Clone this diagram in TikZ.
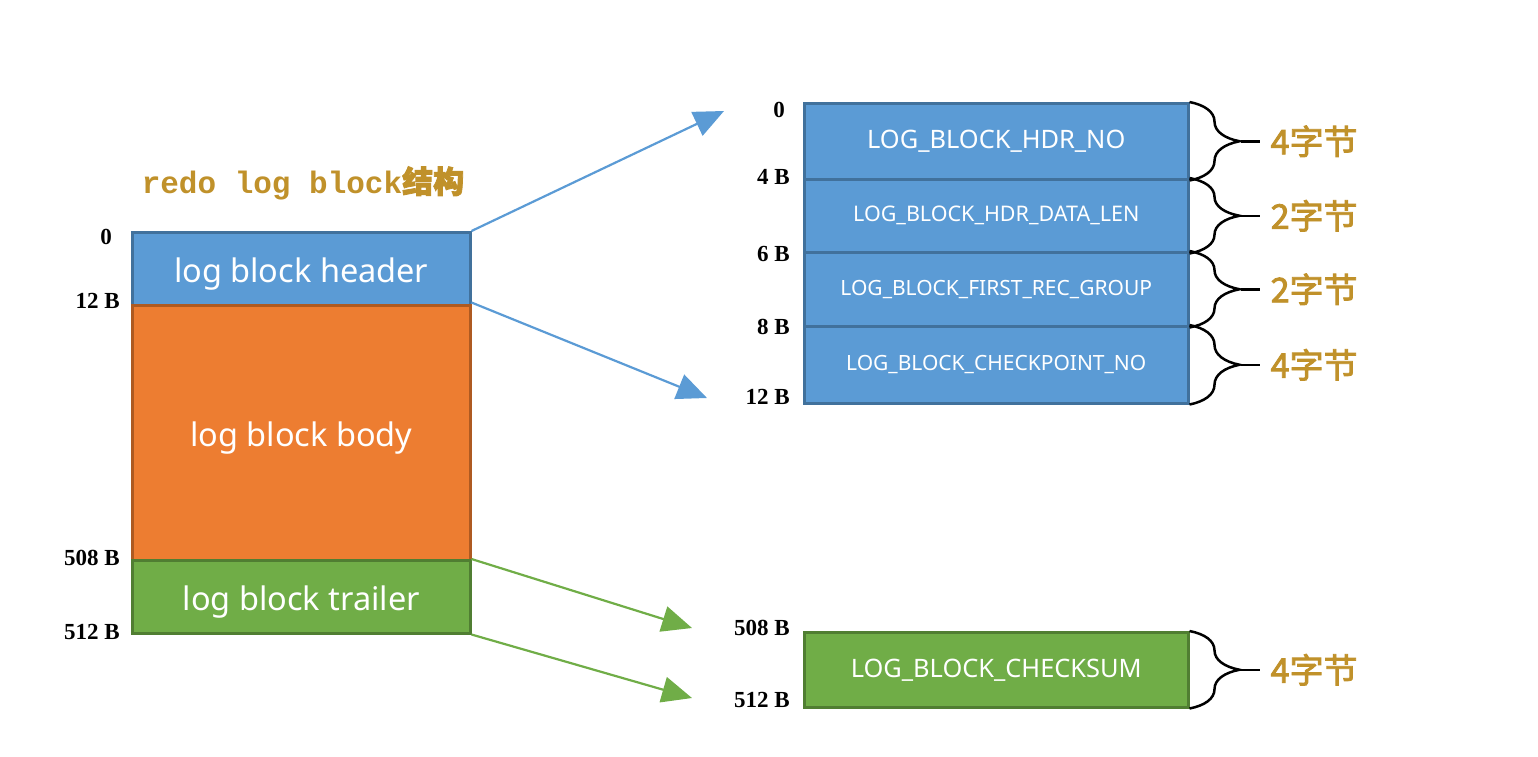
\documentclass[tikz,border=0pt]{standalone}
\usepackage{fontspec}
\setmainfont{Liberation Serif}
\newfontfamily\boxfont{Noto Sans}
\newfontfamily\cjkfont[FakeBold=2.5]{Noto Sans CJK SC}
\newfontfamily\titlemono{Liberation Mono}
\usetikzlibrary{decorations.pathreplacing,arrows.meta}
\definecolor{cblue}{HTML}{5B9BD5}
\definecolor{cblueD}{HTML}{41719C}
\definecolor{corange}{HTML}{ED7D31}
\definecolor{corangeD}{HTML}{AE5A21}
\definecolor{cgreen}{HTML}{70AD47}
\definecolor{cgreenD}{HTML}{507E32}
\definecolor{cgold}{HTML}{C0912A}
\newcommand{\lowtxt}[1]{\raisebox{-5pt}[\height][\depth]{#1}}
\tikzset{
  blk/.style={draw, line width=2.5pt, inner sep=0pt, anchor=north west, text=white},
  bigtxt/.style={font=\boxfont\fontsize{32.5}{32.5}\selectfont},
  rowtxt/.style={font=\boxfont\fontsize{21}{21}\selectfont},
  lab/.style={font=\bfseries\fontsize{23}{23}\selectfont, anchor=east, inner sep=0pt},
  sz/.style={font=\cjkfont\fontsize{34}{34}\selectfont, text=cgold, anchor=west, inner sep=0pt},
  arr/.style={line width=2.2pt, -{Triangle[length=30pt,width=26pt]}},
  brc/.style={draw, line width=2.5pt, decorate, decoration={brace, amplitude=50pt}},
}
\begin{document}
\begin{tikzpicture}[x=1pt, y=-1pt]
\useasboundingbox (0,0) rectangle (1538,756);
% title
\node[text=cgold, inner sep=0pt] (title) at (303,183)
  {\titlemono\bfseries\fontsize{31}{31}\selectfont redo log block{\cjkfont\fontsize{31}{31}\selectfont 结构}};
% left block
\node[blk, fill=cblue, draw=cblueD, minimum width=338pt, minimum height=73pt, bigtxt] (hdr) at (131,231) {\lowtxt{log block header}};
\node[blk, fill=corange, draw=corangeD, minimum width=338pt, minimum height=255pt, bigtxt] (body) at (131,304) {\lowtxt{log block body}};
\node[blk, fill=cgreen, draw=cgreenD, minimum width=338pt, minimum height=73pt, bigtxt] (trl) at (131,559) {\lowtxt{log block trailer}};
\node[lab] (l0) at (112,237) {0};
\node[lab] (l12) at (120,301) {12 B};
\node[lab] (l508) at (120,558) {508 B};
\node[lab] (l512) at (120,632) {512 B};
% right header rows
\node[blk, fill=cblue, draw=cblueD, minimum width=384pt, minimum height=76pt, font=\boxfont\fontsize{25.4}{25.4}\selectfont] (r1) at (803,102) {LOG\_BLOCK\_HDR\_NO};
\node[blk, fill=cblue, draw=cblueD, minimum width=384pt, minimum height=73pt, font=\boxfont\fontsize{21.5}{21.5}\selectfont] (r2) at (803,178) {LOG\_BLOCK\_HDR\_DATA\_LEN};
\node[blk, fill=cblue, draw=cblueD, minimum width=384pt, minimum height=74pt, rowtxt] (r3) at (803,251) {LOG\_BLOCK\_FIRST\_REC\_GROUP};
\node[blk, fill=cblue, draw=cblueD, minimum width=384pt, minimum height=77pt, rowtxt] (r4) at (803,325) {LOG\_BLOCK\_CHECKPOINT\_NO};
\node[blk, fill=cgreen, draw=cgreenD, minimum width=384pt, minimum height=75pt, font=\boxfont\fontsize{25.4}{25.4}\selectfont] (ck) at (803,631) {LOG\_BLOCK\_CHECKSUM};
\node[lab] (m0) at (785,110) {0};
\node[lab] (m4) at (790,177) {4 B};
\node[lab] (m6) at (790,254) {6 B};
\node[lab] (m8) at (790,327) {8 B};
\node[lab] (m12) at (790,397) {12 B};
\node[lab] (m508) at (790,628) {508 B};
\node[lab] (m512) at (790,700) {512 B};
% arrows
\coordinate (a1) at (724,111);
\coordinate (a2) at (707,398);
\coordinate (a3) at (692,628);
\coordinate (a4) at (692,698);
\draw[arr, cblue] (hdr.north east) -- (a1);
\draw[arr, cblue] ([yshift=4pt]hdr.south east) -- (a2);
\draw[arr, cgreen] (trl.north east) -- (a3);
\draw[arr, cgreen] (trl.south east) -- (a4);
% braces
\foreach \r/\t in {r1/4,r2/2,r3/2,r4/4,ck/4}{
  \draw[brc] (\r.north east) -- (\r.south east);
  \draw[line width=2.5pt] ([xshift=51pt]\r.east) -- ([xshift=70pt]\r.east);
  \node[sz] (s\r) at ([xshift=81pt]\r.east) {\t 字节};
}
\end{tikzpicture}
\end{document}
